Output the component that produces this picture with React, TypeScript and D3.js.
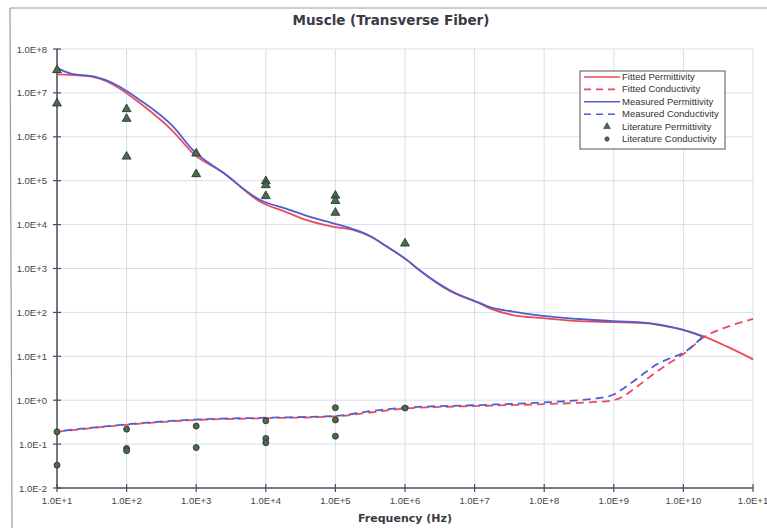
import React from "react";
import * as d3 from "d3";

const W = 767;
const H = 528;

// log10(frequency in Hz) / log10(value)
const fitPermLogF = [1.0, 1.3, 1.5, 1.72, 1.9, 2.19, 2.67, 2.95, 3.39, 3.92, 4.3, 4.59, 4.97, 5.25, 5.5, 5.74, 6.03, 6.2, 6.65, 7.08, 7.22, 7.55, 7.98, 8.5, 9.0, 9.48, 9.76, 9.99, 10.28, 10.63, 11.0];
const fitPermLogV = [7.42, 7.4, 7.37, 7.26, 7.1, 6.77, 6.12, 5.63, 5.18, 4.52, 4.28, 4.1, 3.95, 3.88, 3.73, 3.5, 3.19, 2.97, 2.48, 2.2, 2.09, 1.94, 1.87, 1.8, 1.78, 1.75, 1.68, 1.6, 1.46, 1.22, 0.93];

const measPermLogF = [1.0, 1.2, 1.5, 1.72, 1.9, 2.19, 2.67, 2.95, 3.39, 3.92, 4.3, 4.59, 4.97, 5.25, 5.5, 5.74, 6.03, 6.2, 6.65, 7.08, 7.22, 7.55, 7.98, 8.5, 9.0, 9.48, 9.76, 9.99, 10.28];
const measPermLogV = [7.57, 7.44, 7.38, 7.28, 7.14, 6.84, 6.23, 5.7, 5.18, 4.56, 4.36, 4.2, 4.03, 3.9, 3.74, 3.5, 3.19, 2.97, 2.5, 2.21, 2.12, 2.02, 1.92, 1.85, 1.8, 1.76, 1.69, 1.61, 1.45];

const fitCondLogF = [1.0, 2.0, 3.0, 4.0, 5.0, 5.5, 6.0, 7.08, 8.0, 8.5, 8.75, 9.0, 9.15, 9.3, 9.45, 9.6, 9.8, 10.0, 10.28, 10.63, 11.0];
const fitCondLogV = [-0.72, -0.56, -0.45, -0.41, -0.37, -0.28, -0.19, -0.13, -0.09, -0.06, -0.04, 0.0, 0.1, 0.27, 0.45, 0.63, 0.85, 1.05, 1.42, 1.67, 1.85];

const measCondLogF = [1.0, 2.0, 3.0, 4.0, 5.0, 5.5, 6.0, 7.08, 8.0, 8.5, 8.75, 9.0, 9.15, 9.3, 9.45, 9.6, 9.8, 10.0, 10.28];
const measCondLogV = [-0.71, -0.55, -0.44, -0.4, -0.36, -0.25, -0.17, -0.11, -0.05, 0.0, 0.04, 0.13, 0.28, 0.45, 0.63, 0.8, 0.95, 1.08, 1.45];

const litPermLogF = [1, 1, 2, 2, 2, 3, 3, 4, 4, 4, 5, 5, 5, 6];
const litPermLogV = [7.52, 6.76, 6.63, 6.41, 5.55, 5.62, 5.15, 4.99, 4.9, 4.65, 4.66, 4.54, 4.27, 3.57];

const litCondLogF = [1, 1, 2, 2, 2, 3, 3, 4, 4, 4, 5, 5, 5, 6];
const litCondLogV = [-0.72, -1.48, -0.66, -1.1, -1.15, -0.59, -1.08, -0.47, -0.87, -0.97, -0.17, -0.45, -0.82, -0.18];

const xTickExps = [1, 2, 3, 4, 5, 6, 7, 8, 9, 10, 11];
const yTickExps = [-2, -1, 0, 1, 2, 3, 4, 5, 6, 7, 8];
const xTickLabels = ["1.0E+1", "1.0E+2", "1.0E+3", "1.0E+4", "1.0E+5", "1.0E+6", "1.0E+7", "1.0E+8", "1.0E+9", "1.0E+10", "1.0E+1"];
const yTickLabels = ["1.0E-2", "1.0E-1", "1.0E+0", "1.0E+1", "1.0E+2", "1.0E+3", "1.0E+4", "1.0E+5", "1.0E+6", "1.0E+7", "1.0E+8"];

const legendLabels = ["Fitted Permittivity", "Fitted Conductivity", "Measured Permittivity", "Measured Conductivity", "Literature Permittivity", "Literature Conductivity"];

const RED = "#ee4a5c";
const BLUE = "#4f5fd0";
const MARK_FILL = "#4c6a4c";
const MARK_STROKE = "#1f2f24";
const GRID = "#d6deef";
const AXIS = "#4a4a5e";
const FONT = "'Liberation Sans', Arial, sans-serif";
const TITLE_FONT = "'DejaVu Sans', Verdana, sans-serif";

export default function App() {
  const left = 57, right = 753, top = 49, bottom = 488;
  const x = d3.scaleLog().domain([1e1, 1e11]).range([left, right]);
  const y = d3.scaleLog().domain([1e-2, 1e8]).range([bottom, top]);

  const toPts = (lf: number[], lv: number[]) => lf.map((f, i) => [Math.pow(10, f), Math.pow(10, lv[i])] as [number, number]);
  const line = d3
    .line<[number, number]>()
    .x((d) => x(d[0]))
    .y((d) => y(d[1]))
    .curve(d3.curveMonotoneX);

  const triPath = d3.symbol().type(d3.symbolTriangle).size(34)() as string;

  const legendX = 580, legendY = 71, legendW = 145, legendH = 78;
  const rowY = (i: number) => legendY + 6 + i * 12.4;

  return (
    <svg
      width={W}
      height={H}
      style={{ position: "absolute", left: 0, top: 0, background: "#fff" }}
      xmlns="http://www.w3.org/2000/svg"
    >
      <rect x={0} y={0} width={W} height={H} fill="#fff" />
      {/* outer frame */}
      <line x1={10} y1={8} x2={W} y2={8} stroke="#9a9aa6" strokeWidth={1.2} />
      <line x1={10} y1={8} x2={12} y2={H} stroke="#9a9aa6" strokeWidth={1.2} />

      {/* title */}
      <text x={391} y={25} textAnchor="middle" fontFamily={TITLE_FONT} fontWeight="bold" fontSize={13.5} fill="#3a3a44">
        Muscle (Transverse Fiber)
      </text>

      {/* grid */}
      {xTickExps.slice(1).map((e) => (
        <line key={"gx" + e} x1={x(Math.pow(10, e))} x2={x(Math.pow(10, e))} y1={top} y2={bottom} stroke={GRID} strokeWidth={1} />
      ))}
      {yTickExps.slice(1).map((e) => (
        <line key={"gy" + e} x1={left} x2={right} y1={y(Math.pow(10, e))} y2={y(Math.pow(10, e))} stroke={GRID} strokeWidth={1} />
      ))}

      {/* axes */}
      <line x1={left} x2={left} y1={top} y2={bottom} stroke={AXIS} strokeWidth={1.5} />
      <line x1={left} x2={right} y1={bottom} y2={bottom} stroke={AXIS} strokeWidth={1.5} />
      {yTickExps.map((e, i) => (
        <g key={"yt" + e}>
          <line x1={left - 4} x2={left + 4} y1={y(Math.pow(10, e))} y2={y(Math.pow(10, e))} stroke={AXIS} strokeWidth={1.2} />
          <text x={left - 10} y={y(Math.pow(10, e)) + 3.5} textAnchor="end" fontFamily={FONT} fontSize={9.5} fill="#444">
            {yTickLabels[i]}
          </text>
        </g>
      ))}
      {xTickExps.map((e, i) => (
        <g key={"xt" + e}>
          <line x1={x(Math.pow(10, e))} x2={x(Math.pow(10, e))} y1={bottom - 4} y2={bottom + 4} stroke={AXIS} strokeWidth={1.2} />
          <text x={x(Math.pow(10, e))} y={bottom + 16} textAnchor="middle" fontFamily={FONT} fontSize={9.5} fill="#444">
            {xTickLabels[i]}
          </text>
        </g>
      ))}
      <text x={405} y={522} textAnchor="middle" fontFamily={TITLE_FONT} fontWeight="bold" fontSize={11} fill="#3a3a44">
        Frequency (Hz)
      </text>

      {/* curves */}
      <path d={line(toPts(fitCondLogF, fitCondLogV)) || ""} fill="none" stroke={RED} strokeWidth={1.8} strokeDasharray="8,5" />
      <path d={line(toPts(measCondLogF, measCondLogV)) || ""} fill="none" stroke={BLUE} strokeWidth={1.8} strokeDasharray="8,5" strokeDashoffset={6} />
      <path d={line(toPts(fitPermLogF, fitPermLogV)) || ""} fill="none" stroke={RED} strokeWidth={1.8} />
      <path d={line(toPts(measPermLogF, measPermLogV)) || ""} fill="none" stroke={BLUE} strokeWidth={1.8} />

      {/* literature markers */}
      {litPermLogF.map((f, i) => (
        <path
          key={"lp" + i}
          d={triPath}
          transform={`translate(${x(Math.pow(10, f))},${y(Math.pow(10, litPermLogV[i]))})`}
          fill={MARK_FILL}
          stroke={MARK_STROKE}
          strokeWidth={0.8}
        />
      ))}
      {litCondLogF.map((f, i) => (
        <circle
          key={"lc" + i}
          cx={x(Math.pow(10, f))}
          cy={y(Math.pow(10, litCondLogV[i]))}
          r={3}
          fill={MARK_FILL}
          stroke={MARK_STROKE}
          strokeWidth={0.8}
        />
      ))}

      {/* legend */}
      <rect x={legendX} y={legendY} width={legendW} height={legendH} fill="#fff" stroke="#555" strokeWidth={1} />
      {legendLabels.map((lab, i) => {
        const ry = rowY(i);
        let sample: React.ReactNode = null;
        if (i < 4) {
          sample = (
            <line
              x1={584}
              x2={620}
              y1={ry}
              y2={ry}
              stroke={i < 2 ? RED : BLUE}
              strokeWidth={1.6}
              strokeDasharray={i % 2 === 1 ? "7,5" : undefined}
            />
          );
        } else if (i === 4) {
          sample = <path d={d3.symbol().type(d3.symbolTriangle).size(20)() as string} transform={`translate(607,${ry})`} fill={MARK_FILL} stroke={MARK_STROKE} strokeWidth={0.6} />;
        } else {
          sample = <circle cx={607} cy={ry} r={2.2} fill={MARK_FILL} stroke={MARK_STROKE} strokeWidth={0.6} />;
        }
        return (
          <g key={"lg" + i}>
            {sample}
            <text x={622} y={ry + 3} fontFamily={FONT} fontSize={9.5} fill="#333">
              {lab}
            </text>
          </g>
        );
      })}
    </svg>
  );
}
